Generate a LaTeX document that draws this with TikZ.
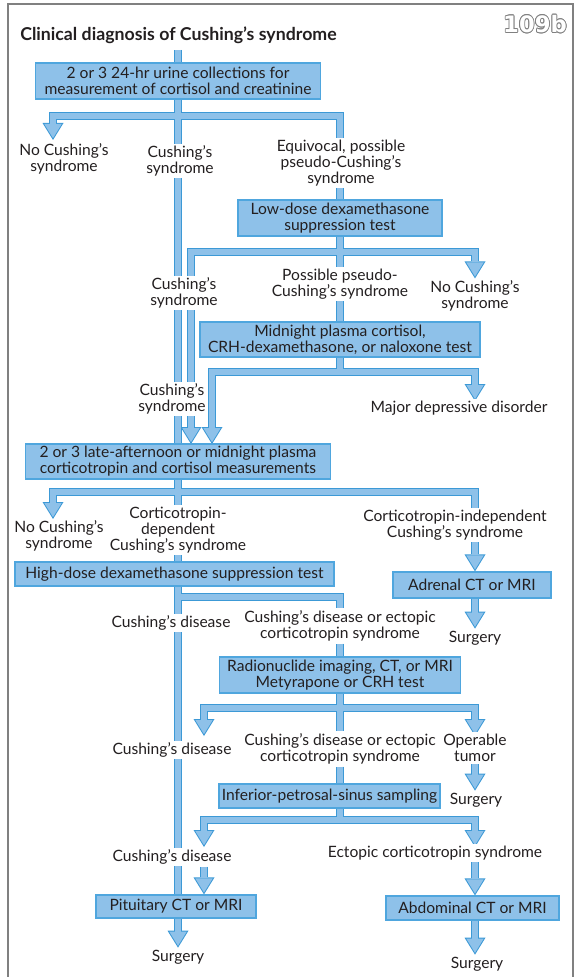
\documentclass[tikz,border=0pt]{standalone}
\usepackage{fontspec}
\setmainfont{Lato}
\newfontfamily\numfont{DejaVu Sans}
\usetikzlibrary{arrows.meta,backgrounds}

\definecolor{pipefill}{HTML}{8EC1E9}
\definecolor{pipeline}{HTML}{3C99D6}
\definecolor{boxline}{HTML}{4FA6DE}
\definecolor{ink}{HTML}{231F20}
\definecolor{frame}{HTML}{808080}

\begin{document}
\begin{tikzpicture}[x=0.75pt,y=-0.75pt,
  font=\fontsize{11.7}{12}\selectfont,text=ink,
  test/.style={draw=boxline,line width=0.9pt,fill=pipefill,align=center,inner sep=0pt},
  note/.style={fill=white,align=center,inner xsep=1pt,inner ysep=1.5pt},
  badge/.style={font=\numfont\bfseries\fontsize{17}{17}\selectfont,inner sep=0pt},
  pipeout/.style={draw=pipeline,line width=6pt,
    tip/.style={-{Triangle[width=15.75pt,length=12.75pt,line width=0pt]}}},
  pipein/.style={draw=pipefill,line width=4.4pt,
    tip/.style={-{Triangle[width=13.05pt,length=10.57pt,line width=0pt]},shorten >=1.43pt}}]
\useasboundingbox (0,0) rectangle (575,977);

% frame and heading
\draw[frame,line width=1.1pt] (8,977) |- (573,4) -- (573,977);
\node[anchor=west,inner sep=0pt,font=\fontsize{13.3}{14}\selectfont\bfseries] (title) at (20,35)
  {Clinical diagnosis of Cushing's syndrome};
\foreach \a in {0,30,...,330}
  \node[badge,text=frame] (rim\a) at ([shift={(\a:0.6pt)}]535,24) {109b};
\node[badge,text=white] (badge) at (535,24) {109b};

% tests
\node[test,minimum width=213.75pt,minimum height=27pt] (urine) at (178,81)
  {2 or 3 24-hr urine collections for\\measurement of cortisol and creatinine};
\node[test,minimum width=153pt,minimum height=27pt] (lowdex) at (340,218)
  {Low-dose dexamethasone\\suppression test};
\node[test,minimum width=210pt,minimum height=26.25pt] (midnight) at (340,339.5)
  {Midnight plasma cortisol,\\CRH-dexamethasone, or naloxone test};
\node[test,minimum width=228.75pt,minimum height=26.25pt] (acth) at (178,461.5)
  {2 or 3 late-afternoon or midnight plasma\\corticotropin and cortisol measurements};
\node[test,minimum width=239.25pt,minimum height=18pt] (highdex) at (174.5,574)
  {High-dose dexamethasone suppression test};
\node[test,minimum width=118.5pt,minimum height=19.5pt] (adrenal) at (472,585)
  {Adrenal CT or MRI};
\node[test,minimum width=180.75pt,minimum height=27pt] (imaging) at (340,675)
  {Radionuclide imaging, CT, or MRI\\Metyrapone or CRH test};
\node[test,minimum width=165.75pt,minimum height=18pt] (ipss) at (329.5,796)
  {Inferior-petrosal-sinus sampling};
\node[test,minimum width=120pt,minimum height=17.25pt] (pituitary) at (176,906.5)
  {Pituitary CT or MRI};
\node[test,minimum width=129.75pt,minimum height=18pt] (abdominal) at (472.5,908)
  {Abdominal CT or MRI};

% outcomes
\node[note] (no1) at (64,159) {No Cushing's\\syndrome};
\node[note] (cs1) at (180,161) {Cushing's\\syndrome};
\node[note] (equiv) at (341,163) {Equivocal, possible\\pseudo-Cushing's\\syndrome};
\node[note] (cs2) at (184,293) {Cushing's\\syndrome};
\node[note] (pseudo) at (340,284) {Possible pseudo-\\Cushing's syndrome};
\node[note] (no2) at (475,296) {No Cushing's\\syndrome};
\node[note] (cs3) at (172,399) {Cushing's\\syndrome};
\node[note] (mdd) at (459,408) {Major depressive disorder};
\node[note] (no3) at (59,536) {No Cushing's\\syndrome};
\node[note] (dep) at (178,530) {Corticotropin-\\dependent\\Cushing's syndrome};
\node[note] (indep) at (455,525) {Corticotropin-independent\\Cushing's syndrome};
\node[note] (cd1) at (171,623) {Cushing's disease};
\node[note] (cdx1) at (340,626) {Cushing's disease or ectopic\\corticotropin syndrome};
\node[note] (surg1) at (475,638) {Surgery};
\node[note] (cd2) at (172,750) {Cushing's disease};
\node[note] (cdx2) at (340,749) {Cushing's disease or ectopic\\corticotropin syndrome};
\node[note] (oper) at (475,748) {Operable\\tumor};
\node[note] (surg2) at (476,800) {Surgery};
\node[note] (cd3) at (172,857) {Cushing's disease};
\node[note] (ectopic) at (435,853) {Ectopic corticotropin syndrome};
\node[note] (surg3) at (178,957) {Surgery};
\node[note] (surg4) at (477,964) {Surgery};

% branch points and loose arrow ends
\coordinate (top) at (178,50);
\coordinate (j1) at (178,116);
\coordinate (t1) at (53,140);
\coordinate (j2) at (340,252);
\coordinate (t2) at (191,444);
\coordinate (j3) at (340,372);
\coordinate (t3) at (475,401);
\coordinate (t3a) at (212,444);
\coordinate (j4) at (178,492);
\coordinate (t4) at (53,519);
\coordinate (j5) at (178,597);
\coordinate (j6) at (340,708);
\coordinate (t6l) at (204,736);
\coordinate (t6r) at (475,736);
\coordinate (j7) at (340,820);
\coordinate (t7l) at (204,847);
\coordinate (t7r) at (475,847);

% pipes: outline pass first, fill pass over it, so joints merge
\begin{scope}[on background layer]
\foreach \p in {pipeout,pipein}{
  \draw[\p] (top) -- (urine.north);
  \draw[\p] (urine.south) -- (urine.south |- acth.north);
  \draw[\p,tip] (j1) -| (t1);
  \draw[\p] (j1) -| (j2 |- equiv.north);
  \draw[\p] (j2 |- equiv.south) -- (j2 |- lowdex.north);
  \draw[\p] (lowdex.south) -- (pseudo.north);
  \draw[\p,tip] (j2) -| (t3 |- no2.north);
  \draw[\p,tip] (j2) -| (t2);
  \draw[\p] (pseudo.south) -- (midnight.north);
  \draw[\p] (midnight.south) -- (j3);
  \draw[\p,tip] (j3) -| (t3);
  \draw[\p,tip] (j3) -| (t3a);
  % corticotropin split
  \draw[\p] (acth.south) -- (acth.south |- highdex.north);
  \draw[\p,tip] (j4) -| (t4);
  \draw[\p] (j4) -| (t3 |- indep.north);
  \draw[\p,tip] (t3 |- indep.south) -- (t3 |- adrenal.north);
  \draw[\p,tip] (t3 |- adrenal.south) -- (t3 |- surg1.north);
  \draw[\p] (j5 |- highdex.south) -- (j5 |- pituitary.north);
  \draw[\p] (j5) -| (cdx1.north);
  \draw[\p] (cdx1.south) -- (imaging.north);
  \draw[\p] (imaging.south) -- (cdx2.north);
  \draw[\p,tip] (j6) -| (t6l);
  \draw[\p,tip] (j6) -| (t6r);
  \draw[\p,tip] (t6r |- oper.south) -- (t6r |- surg2.north);
  \draw[\p] (cdx2.south) -- (cdx2.south |- ipss.north);
  \draw[\p] (j7 |- ipss.south) -- (j7);
  \draw[\p,tip] (j7) -| (t7l);
  \draw[\p,tip] (j7) -| (t7r);
  \draw[\p,tip] (t6l |- cd3.south) -- (t6l |- pituitary.north);
  \draw[\p,tip] (t7r |- ectopic.south) -- (t7r |- abdominal.north);
  \draw[\p,tip] (j5 |- pituitary.south) -- (surg3.north);
  \draw[\p,tip] (t7r |- abdominal.south) -- (t7r |- surg4.north);
}
\end{scope}
\end{tikzpicture}
\end{document}
